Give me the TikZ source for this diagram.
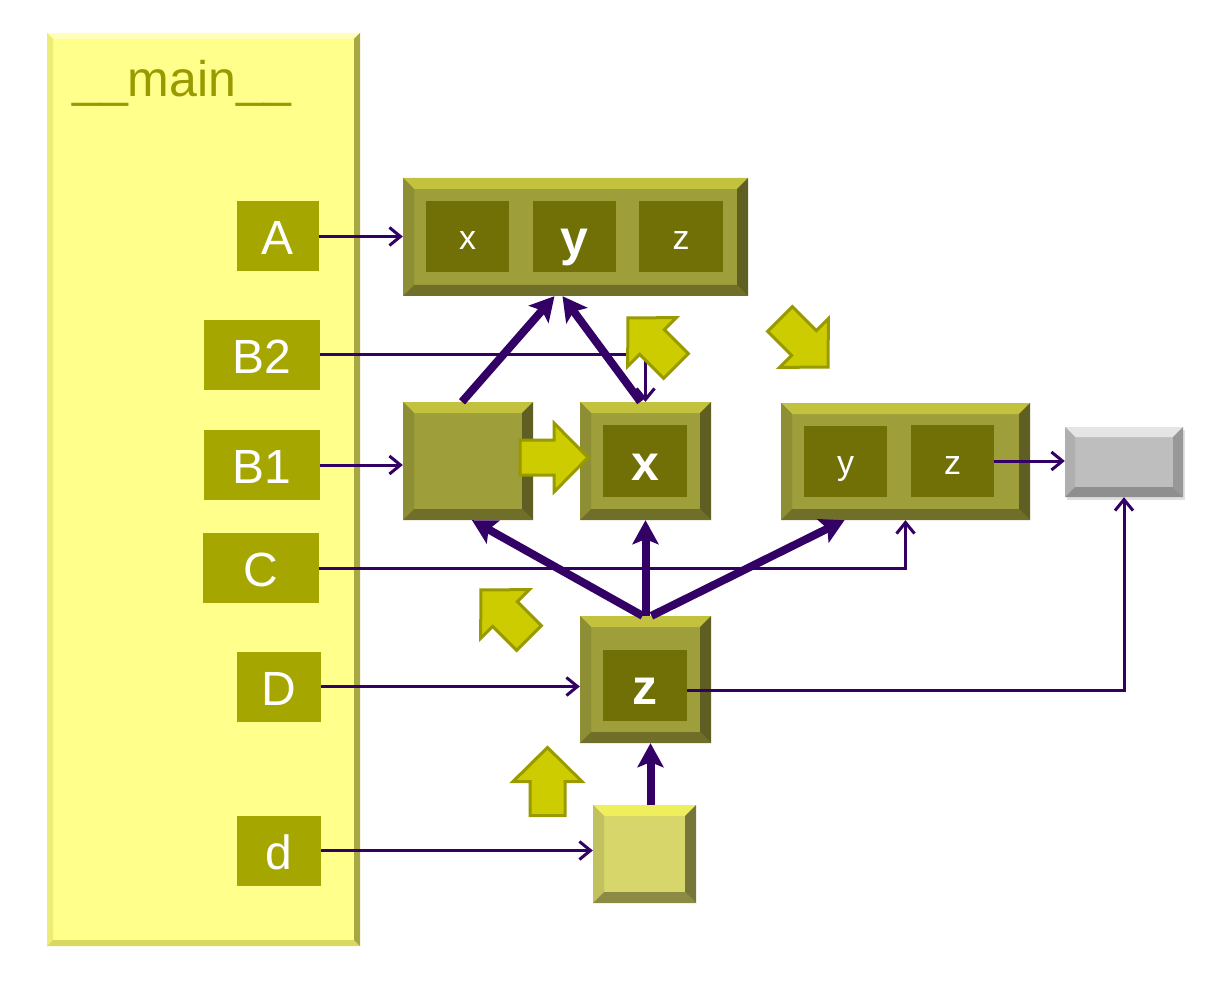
\documentclass[tikz,border=0pt]{standalone}
\usepackage{fontspec}
\setmainfont{Liberation Sans}
\usetikzlibrary{arrows.meta,shadows}
\definecolor{mainfill}{RGB}{255,255,140}
\definecolor{maintext}{RGB}{153,153,0}
\definecolor{varfill}{RGB}{166,166,0}
\definecolor{objfill}{RGB}{158,158,58}
\definecolor{cellfill}{RGB}{112,112,6}
\definecolor{linkcol}{RGB}{51,0,102}
\definecolor{arrowfill}{RGB}{204,204,0}
\definecolor{arrowline}{RGB}{153,153,0}
\definecolor{dfill}{RGB}{214,214,106}
\definecolor{greyfill}{RGB}{190,190,190}

\begin{document}
\begin{tikzpicture}
  [x=1pt,y=-1pt,
   bevel/.style n args={5}{path picture={
     \coordinate (bsw) at (path picture bounding box.south west);
     \coordinate (bne) at (path picture bounding box.north east);
     \coordinate (bnw) at (path picture bounding box.north west);
     \coordinate (bse) at (path picture bounding box.south east);
     \fill[#1] (bnw) -- (bne) -- ([shift={(-#5,-#5)}]bne) -- ([shift={(#5,-#5)}]bnw) -- cycle;
     \fill[#2] (bsw) -- (bnw) -- ([shift={(#5,-#5)}]bnw) -- ([shift={(#5,#5)}]bsw) -- cycle;
     \fill[#3] (bsw) -- (bse) -- ([shift={(-#5,#5)}]bse) -- ([shift={(#5,#5)}]bsw) -- cycle;
     \fill[#4] (bne) -- (bse) -- ([shift={(-#5,#5)}]bse) -- ([shift={(-#5,-#5)}]bne) -- cycle;}},
   mainbox/.style={fill=mainfill, inner sep=0pt,
     bevel={mainfill!60!white}{mainfill!85!olive}{mainfill!70!olive}{mainfill!55!olive!85!black}{6pt}},
   varbox/.style={fill=varfill, text=white, inner sep=0pt, minimum height=70pt,
     text height=37pt, text depth=0pt, font=\fontsize{48}{56}\selectfont},
   objbox/.style={fill=objfill, inner sep=0pt,
     bevel={objfill!70!yellow!90!white}{objfill!90!black}{objfill!70!black}{objfill!60!black}{11pt}},
   dbox/.style={fill=dfill, inner sep=0pt,
     bevel={dfill!50!yellow!80!white}{dfill!90!black}{dfill!65!black}{dfill!55!black}{11pt}},
   greybox/.style={fill=greyfill, inner sep=0pt,
     drop shadow={opacity=0.25, shadow xshift=2pt, shadow yshift=-3pt},
     bevel={greyfill!40!white}{greyfill!92!black}{greyfill!75!black}{greyfill!80!black}{10pt}},
   cellbox/.style={fill=cellfill, text=white, inner sep=0pt, text height=26pt, text depth=0pt,
     minimum width=83pt, minimum height=71pt, font=\fontsize{34}{40}\selectfont},
   boldcell/.style={cellbox, text height=38pt, font=\fontsize{50}{60}\selectfont\bfseries},
   link/.style={draw=linkcol, line width=3pt, -{Straight Barb[length=11pt,width=18pt]}},
   thicklink/.style={draw=linkcol, line width=8pt, -{Stealth[length=24pt,width=26pt,inset=5pt]}},
   bigarrow/.style={fill=arrowfill, draw=arrowline, line width=3pt, line join=miter},
   pics/blockarrow/.style={code={
     \draw[bigarrow] (-34pt,-17.5pt) -- (0pt,-17.5pt) -- (0pt,-34.5pt) -- (34pt,0pt)
       -- (0pt,34.5pt) -- (0pt,17.5pt) -- (-34pt,17.5pt) -- cycle;}}]
  \useasboundingbox (0,0) rectangle (1218,981);
  \node[mainbox, minimum width=313pt, minimum height=913pt] (main) at (203.5,489.5) {};
  \node[anchor=base west, text=maintext, inner sep=0pt, font=\fontsize{50}{60}\selectfont]
    (mainlabel) at (72,97) {\_\_main\_\_};
  \node[varbox, minimum width=82pt] (A) at (278,236.5) {A};
  \node[varbox, minimum width=116pt] (B2) at (262,355) {B2};
  \node[varbox, minimum width=116pt] (B1) at (262,465) {B1};
  \node[varbox, minimum width=116pt] (C) at (261,568) {C};
  \node[varbox, minimum width=84pt] (D) at (279,686.5) {D};
  \node[varbox, minimum width=84pt] (d) at (279,850.5) {d};
  \node[objbox, minimum width=345pt, minimum height=118pt] (tup) at (575.5,237) {};
  \node[cellbox] (tx) at (467.5,237) {x};
  \node[boldcell] (ty) at (574.5,237) {y};
  \node[cellbox, minimum width=84pt] (tz) at (681,237) {z};
  \node[objbox, minimum width=130pt, minimum height=118pt] (empty) at (468,461) {};
  \node[objbox, minimum width=131pt, minimum height=118pt] (xobj) at (645.5,461) {};
  \node[boldcell, minimum width=84pt, minimum height=72pt] (xx) at (645,461) {x};
  \node[objbox, minimum width=249pt, minimum height=117pt] (yzobj) at (905.5,461.5) {};
  \node[cellbox] (yzy) at (845.5,461.5) {y};
  \node[cellbox, minimum height=72pt] (yzz) at (952.5,461) {z};
  \node[greybox, minimum width=118pt, minimum height=70pt] (grey) at (1124,462) {};
  \node[objbox, minimum width=131pt, minimum height=127pt] (zobj) at (645.5,679.5) {};
  \node[boldcell, minimum width=84pt] (zz) at (645,685.5) {z};
  \node[dbox, minimum width=103pt, minimum height=98pt] (dobj) at (644.5,854) {};
  \draw[link] (A.east) -- (A.east -| tup.west);
  \draw[link] (B2.east) -| (xobj.north);
  \draw[link] (B1.east) -- (B1.east -| empty.west);
  \draw[link] (C.east) -| (yzobj.south);
  \draw[link] (D.east) -- (D.east -| zobj.west);
  \draw[link] (d.east) -- (d.east -| dobj.west);
  \draw[link] ([yshift=-4.5pt]zz.east) -| (grey.south);
  \draw[link] (yzz.east) -- (yzz.east -| grey.west);
  \draw[thicklink] ([xshift=-6pt]empty.north) -- ([xshift=-21pt]tup.south);
  \draw[thicklink] ([xshift=-5pt]xobj.north) -- ([xshift=-13pt]tup.south);
  \draw[thicklink] ([xshift=-3pt]zobj.north) -- ([xshift=4pt]empty.south);
  \draw[thicklink] (zobj.north) -- (xobj.south);
  \draw[thicklink] ([xshift=6pt]zobj.north) -- ([xshift=-61pt]yzobj.south);
  \draw[thicklink] ([xshift=6pt]dobj.north) -- ([xshift=5pt]zobj.south);
  \pic at (554,457.5) {blockarrow};
  \pic[rotate=135] at (652,342) {blockarrow};
  \pic[rotate=-45] at (804,343) {blockarrow};
  \pic[rotate=135] at (505,614) {blockarrow};
  \pic[rotate=90] at (547.5,781.5) {blockarrow};
\end{tikzpicture}
\end{document}
